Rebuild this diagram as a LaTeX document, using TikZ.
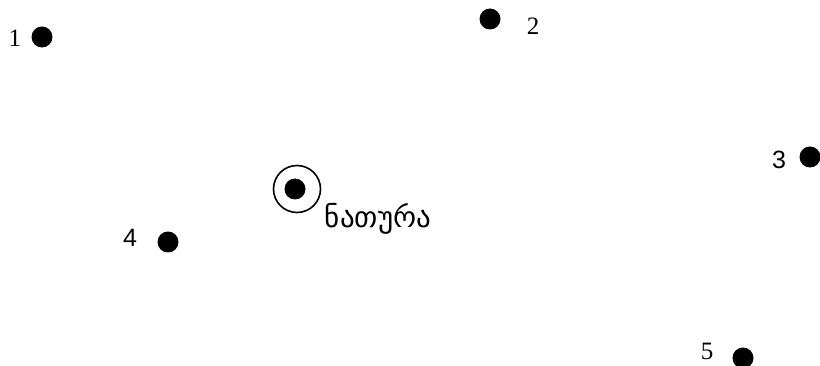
\documentclass[tikz,border=0pt]{standalone}
\usepackage{fontspec}
\setmainfont{Liberation Serif}
\newfontfamily\geofont{DejaVu Sans}
\newfontfamily\lightsans{Liberation Sans}
\usetikzlibrary{positioning}

\tikzset{
    dot/.style={circle, fill=black, inner sep=0pt, minimum size=21pt},
    numlabel/.style={font=\fontsize{25}{30}\selectfont, inner sep=0pt},
    sanslabel/.style={font=\fontsize{25}{30}\selectfont\lightsans, inner sep=0pt}
}

\begin{document}
\begin{tikzpicture}[x=1pt, y=-1pt]
\def\ringsize{47pt}
\useasboundingbox (0,0) rectangle (820,366);

% points
\node[dot] (p1) at (42,37) {};
\node[dot] (p2) at (490,19) {};
\node[dot] (p3) at (810,157) {};
\node[dot] (p4) at (168,242) {};
\node[dot] (p5) at (743,358) {};

\node[numlabel] (n1) at (15,38) {1};
\node[numlabel] (n2) at (533,26) {2};
\node[sanslabel] (n3) at (779,160) {3};
\node[sanslabel] (n4) at (130,238) {4};
\node[numlabel] (n5) at (707,351) {5};

% bulb
\node[circle, draw, line width=1.6pt, minimum size=\ringsize, inner sep=0pt] (bulb) at (297,189) {};
\node[dot] (bulbcore) at (295,189) {};
\node[font=\fontsize{29}{34}\selectfont\geofont, inner sep=0pt] (bulbtext) at (378,219) {ნათურა};
\end{tikzpicture}
\end{document}
